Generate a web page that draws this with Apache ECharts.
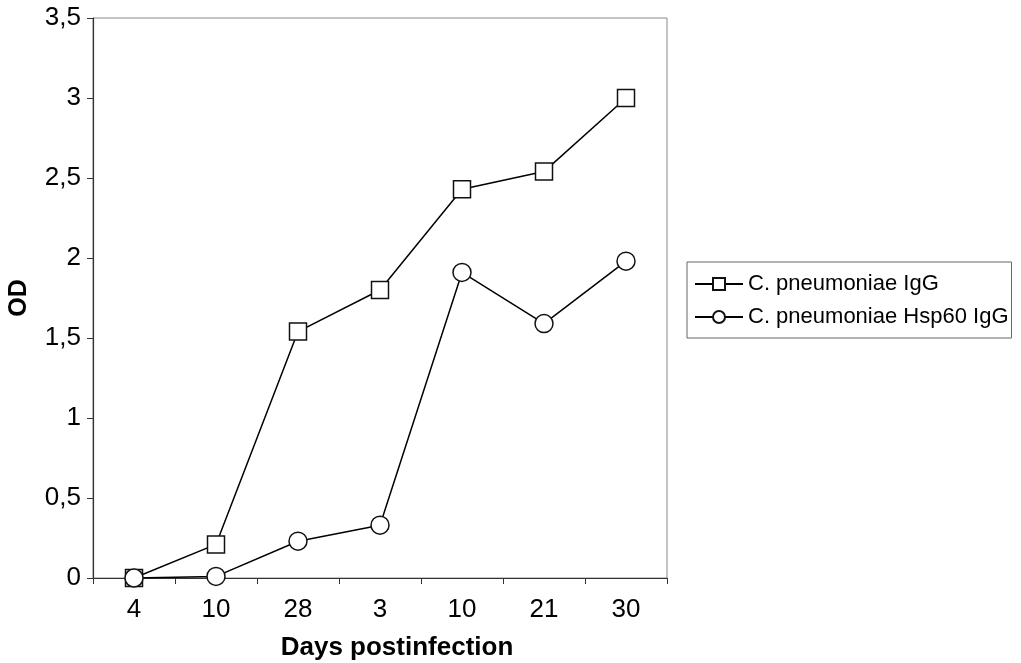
<!DOCTYPE html>
<html>
<head>
<meta charset="utf-8">
<script src="https://cdn.jsdelivr.net/npm/echarts@6/dist/echarts.min.js"></script>
<style>
html,body{margin:0;padding:0;background:#fff;}
#chart{width:1021px;height:663px;}
</style>
</head>
<body>
<div id="chart"></div>
<script>
var categories = ['4', '10', '28', '3', '10', '21', '30'];
var igg = [0, 0.21, 1.54, 1.80, 2.43, 2.54, 3.00];
var hsp60 = [0, 0.01, 0.23, 0.33, 1.91, 1.59, 1.98];
var seriesNames = ['C. pneumoniae IgG', 'C. pneumoniae Hsp60 IgG'];

var chart = echarts.init(document.getElementById('chart'));
var font = 'Liberation Sans, Arial, sans-serif';
chart.setOption({
  animation: false,
  backgroundColor: '#fff',
  grid: {left: 93, right: 354, top: 18, bottom: 85, show: true, borderColor: '#888', borderWidth: 1,
    backgroundColor: 'transparent', outerBoundsMode: 'none', containLabel: false},
  legend: {
    left: 687, top: 262, orient: 'vertical',
    borderColor: '#666', borderWidth: 1, padding: [11, 3, 10, 7],
    itemGap: 11, itemWidth: 48, itemHeight: 15,
    textStyle: {fontFamily: font, fontSize: 22, color: '#000'},
    data: seriesNames
  },
  xAxis: {
    type: 'category', data: categories, boundaryGap: true,
    axisLine: {lineStyle: {color: '#333', width: 1.2}},
    axisTick: {show: true, length: 6, interval: 0, lineStyle: {color: '#333'}},
    axisLabel: {fontFamily: font, fontSize: 26, color: '#000', margin: 19, interval: 0},
    name: 'Days postinfection', nameLocation: 'middle', nameGap: 57,
    nameTextStyle: {fontFamily: font, fontSize: 26, lineHeight: 26, fontWeight: 'bold', color: '#000', padding: [0, 0, 0, 34]}
  },
  yAxis: {
    type: 'value', min: 0, max: 3.5, interval: 0.5,
    splitLine: {show: false},
    axisLine: {show: true, lineStyle: {color: '#333', width: 1.2}},
    axisTick: {show: true, length: 6, lineStyle: {color: '#333'}},
    axisLabel: {fontFamily: font, fontSize: 26, color: '#000', margin: 12,
      formatter: function (v) { return String(v).replace('.', ','); }},
    name: 'OD', nameLocation: 'middle', nameGap: 61,
    nameTextStyle: {fontFamily: font, fontSize: 25, fontWeight: 'bold', color: '#000'}
  },
  series: [
    {
      name: seriesNames[0], type: 'line', data: igg,
      symbol: 'rect', symbolSize: 17,
      lineStyle: {color: '#000', width: 1.5},
      itemStyle: {color: '#fff', borderColor: '#111', borderWidth: 1.5}
    },
    {
      name: seriesNames[1], type: 'line', data: hsp60,
      symbol: 'circle', symbolSize: 18,
      lineStyle: {color: '#000', width: 1.5},
      itemStyle: {color: '#fff', borderColor: '#111', borderWidth: 1.5}
    }
  ]
});
</script>
</body>
</html>
